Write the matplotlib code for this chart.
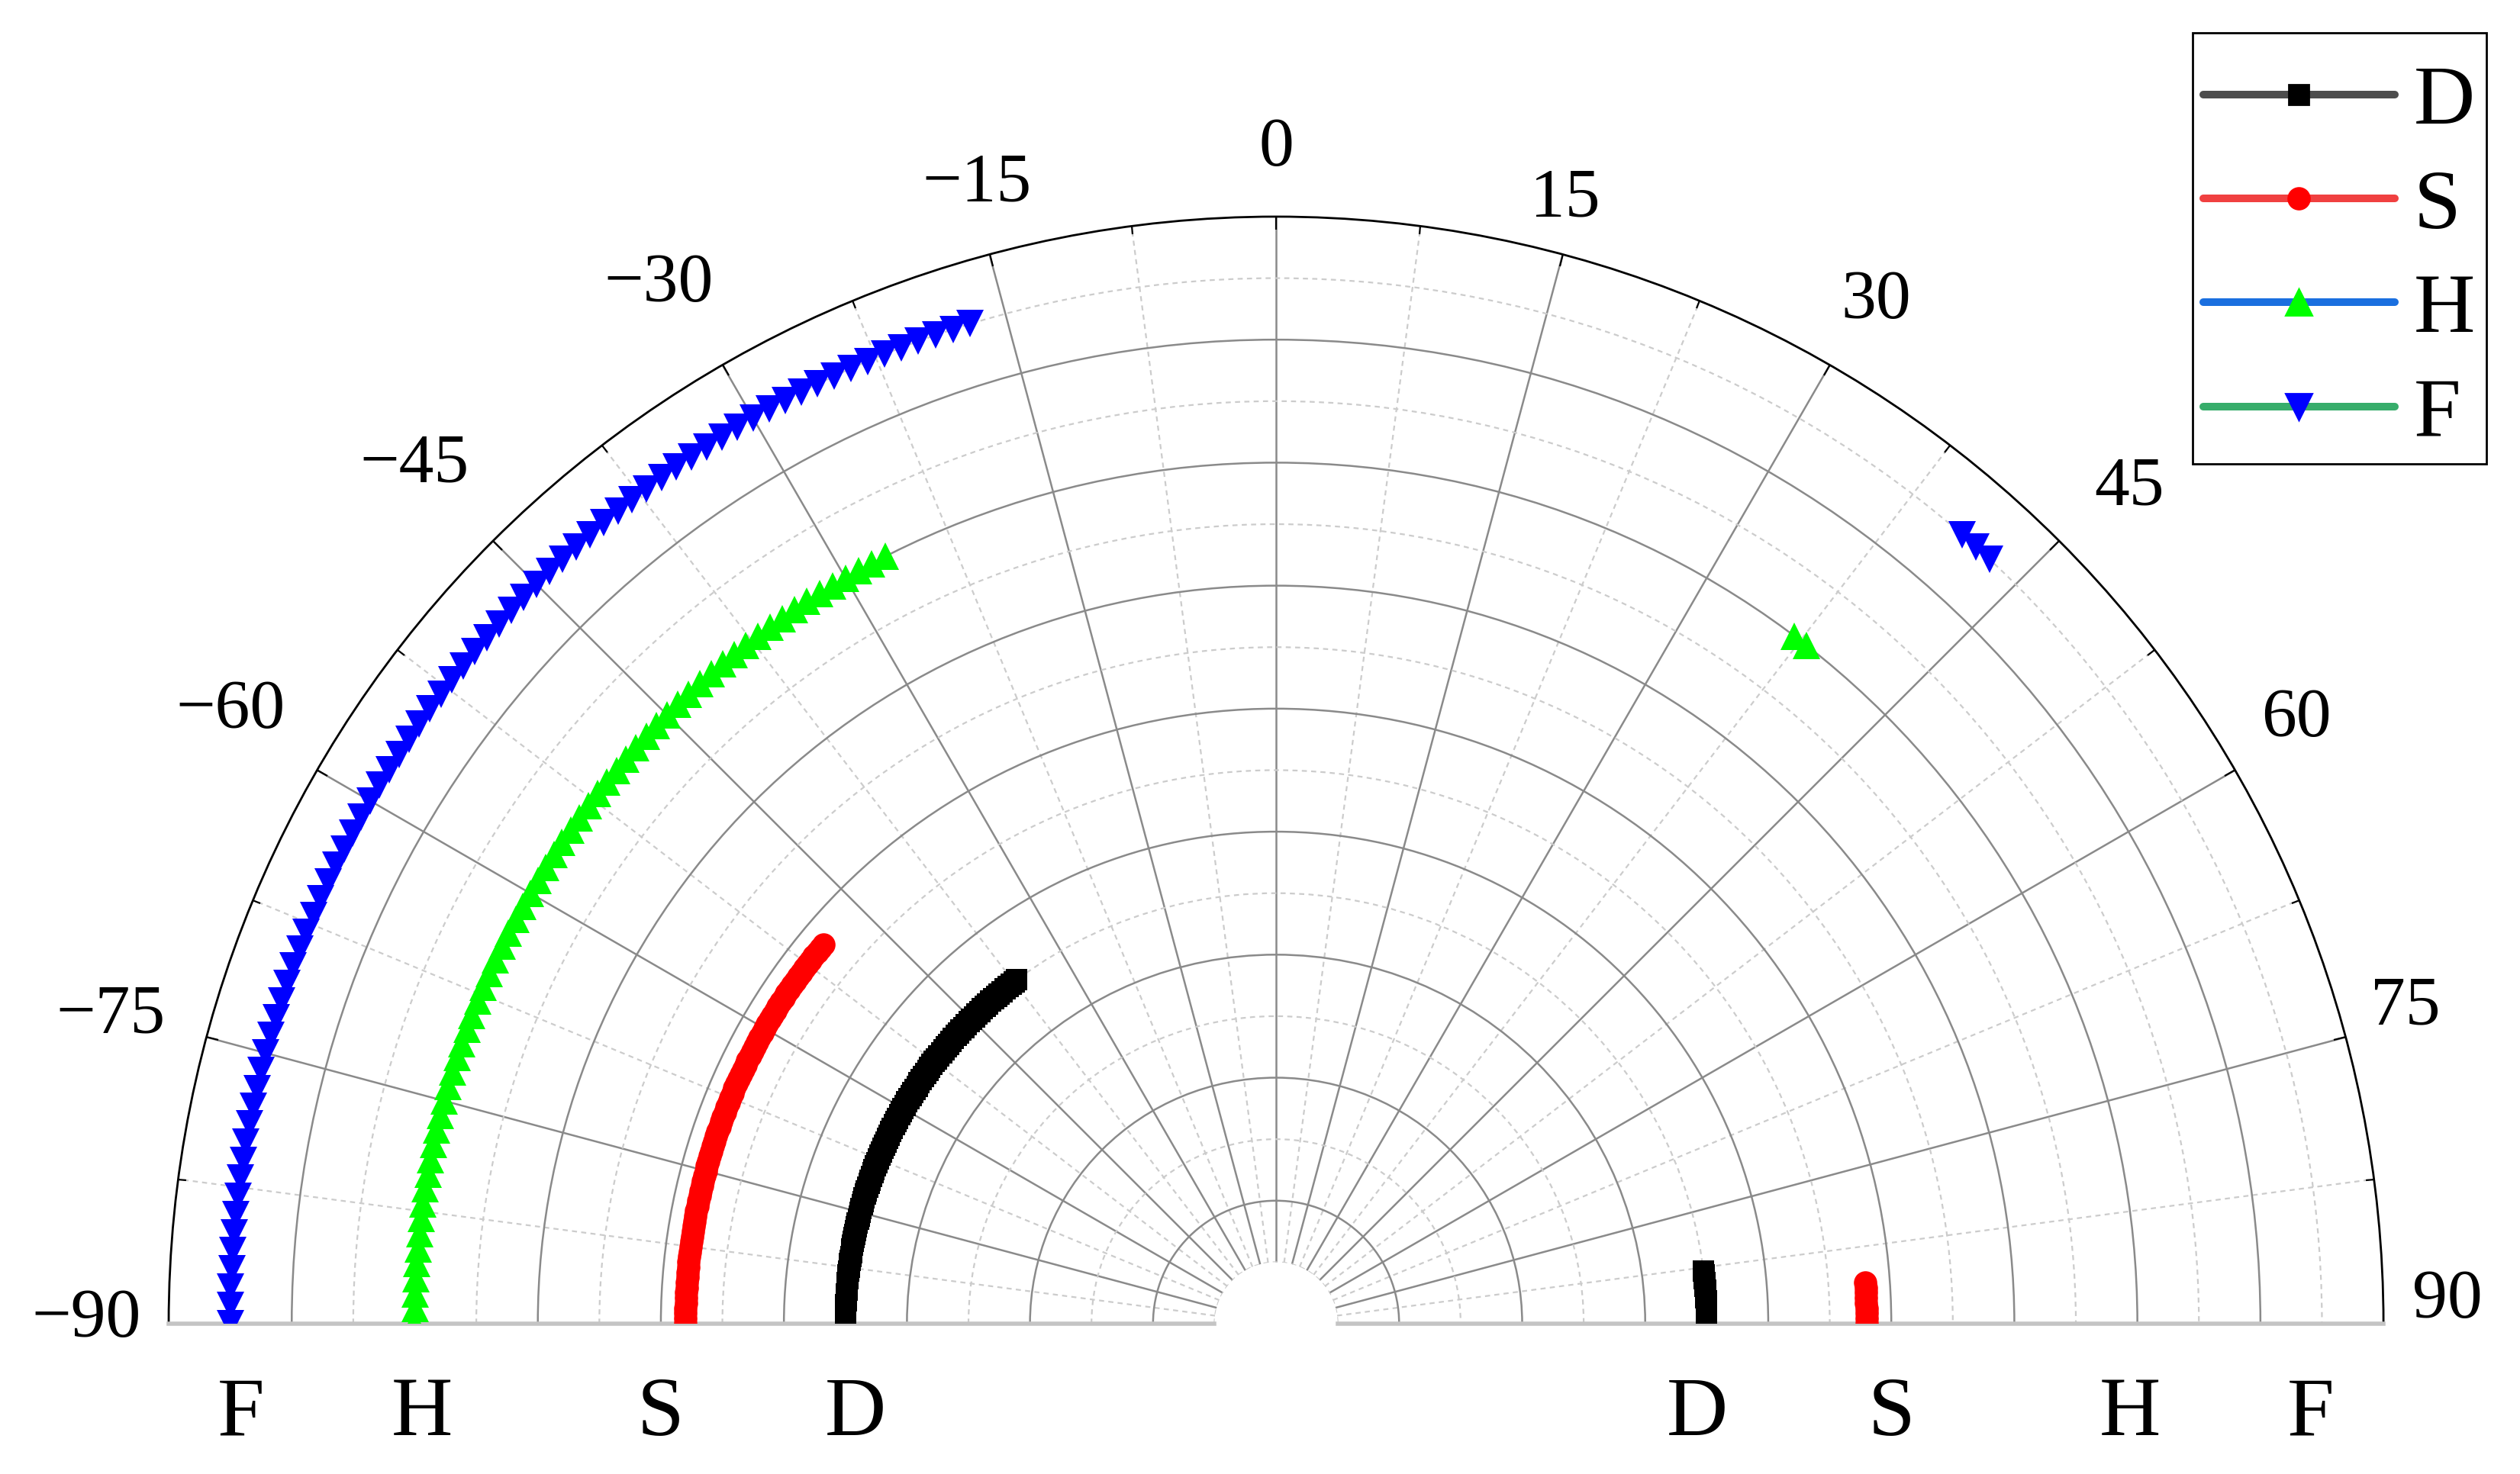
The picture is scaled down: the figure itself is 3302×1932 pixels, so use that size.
import numpy as np
import matplotlib.pyplot as plt
from matplotlib.lines import Line2D
from matplotlib.patches import Rectangle

plt.rcParams['font.family'] = ['Liberation Serif', 'DejaVu Serif']

# angle sweeps (deg), left and right arcs of each series, and their radius
d_theta = [np.arange(-90, -36.5, 0.5), np.arange(83, 90.5, 0.5)]
s_theta = [np.arange(-90, -49.5, 0.5), np.arange(86, 90.5, 0.5)]
h_theta = [np.arange(-90, -26, 1.0), np.array([37, 38])]
f_theta = [np.arange(-90, -16, 1.0), np.array([41, 42, 43])]
d_r = 3.5
s_r = 4.8
h_r = 7.0
f_r = 8.5

names = ['D', 'S', 'H', 'F']
theta_ticks = np.arange(-90, 91, 15)
theta_labels = [str(t).replace('-', '\u2212') for t in theta_ticks]
# offset (points) of each angle label from its point on the rim
label_off = [(-39, 2), (-45, 10), (-41, 28), (-37, 36), (-30, 38), (-6, 33),
             (0, 32), (1, 26), (22, 30), (33, 25), (29, 24), (28, 14), (30, 11)]
# where the letters under the baseline sit (radius)
label_r = [3.42, 5.0, 6.94, 8.41]

fig = plt.figure(figsize=(16.51, 9.66), dpi=200)
# polar axes is kept square; the half disc sits centred in it
ax = fig.add_axes([0.06693, -0.27355, 0.8789, 1.5021], projection='polar')
ax.set_theta_zero_location('N')
ax.set_theta_direction(-1)
ax.set_thetamin(-90)
ax.set_thetamax(90)
ax.set_ylim(0.5, 9)
ax.set_rorigin(0)

# grid
ax.set_xticks(np.deg2rad(theta_ticks), labels=[])
ax.set_xticks(np.deg2rad(np.arange(-82.5, 90, 15)), minor=True)
ax.set_yticks(np.arange(1, 9))
ax.set_yticks(np.arange(0.5, 9, 1.0), minor=True)
ax.yaxis.set_ticklabels([])
ax.grid(True, which='major', color='#8a8a8a', lw=0.9, ls='-')
ax.grid(True, which='minor', color='#cccccc', lw=0.8, ls=(0, (3, 2.5)))
ax.tick_params(axis='x', which='major', direction='in', length=6, width=0.8,
               color='black')
ax.tick_params(axis='x', which='minor', direction='in', length=4, width=0.8,
               color='black')
ax.tick_params(axis='x', which='both', tick1On=False, tick2On=True)
ax.tick_params(axis='y', which='both', length=0)

ax.spines['polar'].set_color('black')
ax.spines['polar'].set_linewidth(1.0)
# polar draw() turns the inner spine back on, so just make it invisible
ax.spines['inner'].set_color('none')
ax.spines['inner'].set_linewidth(0)
for s in ['start', 'end']:
    ax.spines[s].set_color('#c4c4c4')
    ax.spines[s].set_linewidth(2.0)

# angle labels around the rim
for t, lab, off in zip(theta_ticks, theta_labels, label_off):
    ax.annotate(lab, xy=(np.deg2rad(t), 9), xytext=off,
                textcoords='offset points', ha='center', va='center',
                fontsize=33, annotation_clip=False)

# data
for th in d_theta:
    ax.plot(np.deg2rad(th), np.full(len(th), d_r), ls='none', marker='s',
            ms=10, color='black', mew=0, zorder=5)
for th in s_theta:
    ax.plot(np.deg2rad(th), np.full(len(th), s_r), ls='none', marker='o',
            ms=11, color='red', mew=0, zorder=5)
for th in h_theta:
    ax.plot(np.deg2rad(th), np.full(len(th), h_r), ls='none', marker='^',
            ms=13, color='#00ff00', mew=0, zorder=5)
for th in f_theta:
    ax.plot(np.deg2rad(th), np.full(len(th), f_r), ls='none', marker='v',
            ms=13, color='blue', mew=0, zorder=5)

# letters under the baseline
for side in [-90, 90]:
    for name, r in zip(names, label_r):
        ax.annotate(name, xy=(np.deg2rad(side), r), xytext=(0, -43),
                    textcoords='offset points', ha='center', va='center',
                    fontsize=40, annotation_clip=False)

# legend (frame drawn separately so padding can differ per side)
handles = [
    Line2D([], [], color='#4d4d4d', lw=3.6, marker='s', ms=9.5,
           mfc='black', mec='black', solid_capstyle='round'),
    Line2D([], [], color='#f04040', lw=3.6, marker='o', ms=10,
           mfc='red', mec='red', solid_capstyle='round'),
    Line2D([], [], color='#1a6fdf', lw=3.6, marker='^', ms=12,
           mfc='#00ff00', mec='#00ff00', solid_capstyle='round'),
    Line2D([], [], color='#37ad6b', lw=3.6, marker='v', ms=12,
           mfc='blue', mec='blue', solid_capstyle='round'),
]
fig.legend(handles, names, loc='upper left',
           bbox_to_anchor=(0.8743, 0.9562), bbox_transform=fig.transFigure,
           borderaxespad=0, borderpad=0, fontsize=40, handlelength=2.26,
           handletextpad=0.22, labelspacing=0.32, frameon=False)
fig.patches.append(Rectangle((0.8701, 0.6853), 0.1166, 0.2924,
                             transform=fig.transFigure, fill=False,
                             edgecolor='black', lw=1.0))

fig.savefig('out.png', dpi=200)
